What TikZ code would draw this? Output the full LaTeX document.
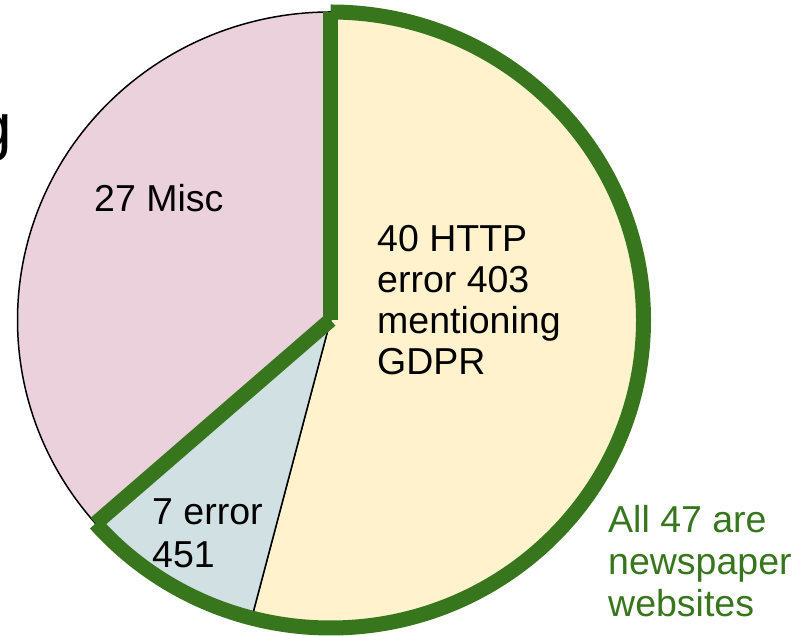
\documentclass[tikz,border=0pt]{standalone}
\usepackage{fontspec}
\setmainfont{Liberation Sans}
\usetikzlibrary{calc}
\definecolor{pieyellow}{HTML}{FFF2CC}
\definecolor{piepink}{HTML}{EAD1DC}
\definecolor{pieblue}{HTML}{D0E0E3}
\definecolor{piegreen}{HTML}{38761D}
\begin{document}
\begin{tikzpicture}[x=1pt,y=1pt,
  slice/.style={draw=black, line width=1.5pt},
  outline/.style={draw=piegreen, line width=15pt, line cap=butt},
  lbl/.style={anchor=base west, inner sep=0pt, align=left}]
\useasboundingbox (0,0) rectangle (810,636);
\def\rx{313}
\def\ry{308}
\coordinate (c) at (330.5,316);
\coordinate (top) at ($(c)+(0,\ry)$);
\coordinate (b1) at ($(c)+({\rx*cos(-104.59)},{\ry*sin(-104.59)})$);
\coordinate (b2) at ($(c)+({\rx*cos(-138.65)},{\ry*sin(-138.65)})$);
% slices
\filldraw[slice, fill=pieyellow] (c) -- (top) arc[start angle=90, end angle=-104.59, x radius=\rx, y radius=\ry] -- cycle;
\filldraw[slice, fill=pieblue] (c) -- (b1) arc[start angle=-104.59, end angle=-138.65, x radius=\rx, y radius=\ry] -- cycle;
\filldraw[slice, fill=piepink] (c) -- (b2) arc[start angle=-138.65, end angle=-270, x radius=\rx, y radius=\ry] -- cycle;
% green outline
\draw[outline] (c) -- (top);
\draw[outline] (top) arc[start angle=90, end angle=-138.65, x radius=\rx, y radius=\ry];
\draw[outline] (b2) -- (c);
% labels (base anchor = baseline of the last line)
\node[lbl, font=\fontsize{37.5}{41.3}\selectfont] (http) at (377,261) {40 HTTP\\error 403\\mentioning\\GDPR};
\node[lbl, font=\fontsize{37.5}{41.5}\selectfont] (misc) at (94,424) {27 Misc};
\node[lbl, font=\fontsize{37.5}{43}\selectfont] (e451) at (152,68) {7 error\\451};
\node[lbl, font=\fontsize{37.5}{42}\selectfont, text=piegreen] (news) at (608,19) {All 47 are\\newspaper\\websites};
\node[anchor=base east, inner sep=0pt, font=\fontsize{64}{64}\selectfont] (g) at (12,487) {g};
\end{tikzpicture}
\end{document}
